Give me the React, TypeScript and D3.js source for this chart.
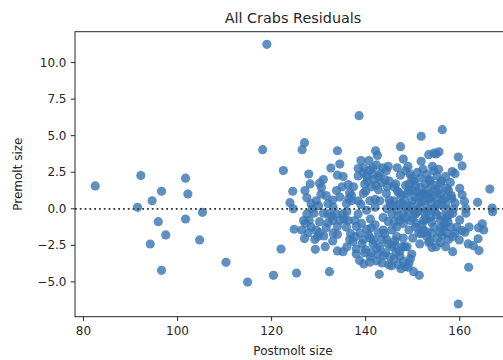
import React from "react";
import * as d3 from "d3";

const title = "All Crabs Residuals";
const xLabel = "Postmolt size";
const yLabel = "Premolt size";
const xTicks = [80, 100, 120, 140, 160];
const yTicks = [-5.0, -2.5, 0.0, 2.5, 5.0, 7.5, 10.0];

// Postmolt size (x) values
const postmolt = [
  82.5, 92.2, 91.5, 94.6, 96.6, 95.9, 94.2, 97.5, 96.6, 101.7, 102.2, 101.7, 105.3, 104.7, 110.3, 114.9,
  119.0, 118.1, 120.4, 122.0, 122.5, 124.5, 123.9, 124.6, 124.8, 125.3, 126.5, 127.0, 127.0, 127.9,
  129.3, 132.3, 131.4, 131.1, 132.6, 134.0, 134.5, 134.0, 134.0, 135.2, 138.6, 138.7, 139.6, 142.9,
  140.7, 142.1, 142.5, 147.4, 148.0, 151.8, 151.8, 153.4, 154.5, 155.6, 156.3, 155.0, 159.7, 160.5,
  158.4, 166.4, 166.9, 167.0, 163.8, 164.8, 165.1, 164.0, 163.9, 164.1, 162.9, 161.8, 161.9, 159.7,
  158.5, 159.9, 160.5, 160.0, 161.3, 161.3, 162.0, 161.1, 151.4, 150.2, 149.5, 148.4, 146.9, 144.9,
  144.2, 142.4, 141.7, 147.8, 146.1, 148.3, 138.0, 137.3, 136.8, 135.9, 133.0, 132.0, 130.2, 129.5,
  128.4, 126.8, 127.5, 128.4, 129.5, 127.5, 127.1, 128.2, 130.2, 130.6, 131.6, 132.0, 133.8, 134.5,
  135.2, 136.3, 136.6, 135.9, 133.8, 135.2, 136.3, 138.4, 138.4, 139.1, 138.8, 139.5, 140.9, 140.2,
  141.2, 138.4, 139.5, 138.4, 140.2, 140.9, 139.8, 141.2, 139.5, 140.9, 140.2, 142.0, 142.7, 143.0,
  143.7, 144.4, 144.1, 144.4, 145.2, 143.7, 144.8, 143.7, 142.7, 143.4, 142.4, 144.5, 146.6, 145.5,
  146.6, 147.3, 148.0, 146.6, 146.0, 147.1, 146.4, 147.4, 146.7, 148.5, 149.5, 149.2, 150.2, 148.8,
  149.9, 151.0, 151.6, 151.6, 153.0, 152.7, 153.7, 154.5, 155.2, 155.9, 154.8, 153.7, 152.7, 151.6,
  150.6, 149.5, 149.2, 150.6, 151.3, 152.3, 153.7, 154.5, 154.1, 153.7, 154.1, 155.2, 156.3, 156.6,
  155.9, 157.3, 157.0, 155.9, 155.2, 157.0, 157.6, 158.3, 158.7, 158.0, 159.0, 159.4, 157.3, 157.6,
  155.9, 153.0, 152.3, 153.0, 154.5, 152.3, 148.8, 147.8, 145.6, 144.5, 143.0, 142.0, 144.8, 142.3,
  142.7, 141.7, 137.4, 137.0, 137.7, 134.5, 133.1, 132.0, 133.1, 130.2, 129.2, 127.8, 126.4, 136.6,
  139.8, 141.2, 140.9, 146.0, 147.3, 149.2,
  146.0, 147.5, 148.5, 149.5, 150.5, 151.0, 152.0, 153.0, 154.0, 155.0, 156.0, 157.0, 148.0, 150.0,
  152.0, 154.0, 156.0, 153.5, 151.0, 149.0, 155.5, 157.0, 158.0, 156.5, 145.0, 150.0, 151.5, 152.5,
  154.5, 149.0, 147.0, 146.0, 145.0, 158.5, 159.0, 157.5, 153.0, 150.0, 148.0, 151.5, 157.0, 158.5,
  155.0, 160.5, 161.0, 160.0, 159.0,
  130.0, 131.0, 133.0, 134.0, 135.0, 136.0, 137.0, 138.0, 139.0, 140.0, 141.0, 141.5, 139.0, 136.0,
  133.0, 130.5, 129.0, 128.0, 131.0, 134.0, 142.0, 143.0, 144.0, 145.5, 146.5, 140.0, 138.0, 141.0,
  143.5, 145.5, 148.0, 149.0, 147.5,
  147.2, 148.2, 149.2, 150.2, 151.2, 152.2, 153.2, 154.2, 155.2, 156.2, 157.2, 148.6, 150.8, 152.8,
  154.8, 156.8, 149.8, 152.2, 154.2, 156.2, 150.6, 153.6, 155.6, 151.8, 153.4, 155.8, 157.8, 158.2,
  146.8, 145.8, 144.6, 143.4, 142.2, 141.4, 140.4, 139.6, 140.6, 141.6, 142.6, 143.8, 144.8, 145.2,
  146.2, 147.2, 148.8, 149.8, 137.8, 139.2, 136.4, 135.4, 132.8, 131.6, 129.8, 128.6, 127.2,
];

// Residual (y) values
const residual = [
  1.56, 2.27, 0.1, 0.55, 1.2, -0.88, -2.41, -1.79, -4.21, 2.09, 1.01, -0.7, -0.24, -2.13, -3.66, -5.01,
  11.25, 4.04, -4.55, -2.75, 2.61, 1.2, 0.42, 0.0, -1.4, -4.39, 4.04, 4.52, -2.04, 2.38,
  -2.77, -4.3, -2.59, -1.86, 2.79, 3.97, 3.06, -1.75, -2.88, -2.93, 6.37, -3.53, -3.77, -4.48,
  3.3, 3.97, 3.65, 4.25, 3.4, 4.96, 3.25, 3.7, 3.8, 3.9, 5.41, 3.75, 3.54, 2.93,
  2.55, 1.35, 0.05, -0.2, 0.44, -1.03, -1.45, -1.3, -2.05, -2.86, -2.52, -2.4, -4.0, -6.51,
  -2.93, -2.13, 0.96, -0.76, 0.0, -0.3, -1.25, -1.6, -4.55, -4.3, -3.41, -3.95, -3.83, -3.83,
  -3.0, -3.57, -2.13, -2.59, -2.48, -2.6, -2.75, -2.23, -1.7, -1.25, -0.8, -0.95, -0.88, -1.45,
  -1.25, -0.8, -0.35, 0.35, 0.55, 0.75, 1.25, 1.7, 1.75, 1.45, 0.9, 0.35, 1.25, 0.8,
  2.2, 1.65, 1.1, 0.35, -0.35, -0.35, -0.8, 0.55, -0.35, -1.0, -1.65, -2.1, -2.0, -1.4,
  -1.3, 2.75, 2.45, 2.25, 2.25, 2.65, 1.7, 1.5, 1.05, 0.55, -0.1, 0.1, 1.3, 2.4,
  2.8, 2.6, 2.0, 1.05, 0.35, -0.6, -0.88, -1.45, -1.65, -2.1, -2.7, -2.1, -1.9, -1.45,
  -1.25, -0.8, -0.35, -0.1, 0.55, 1.1, 1.7, 2.3, 2.8, 2.6, 2.35, 1.7, 1.9, 1.05,
  0.55, 1.1, 1.45, 2.1, 2.35, 1.7, 1.9, 2.6, 2.25, 1.8, 1.35, 1.05, 0.55, 0.1,
  -0.35, -0.8, -1.45, -1.25, -1.65, -0.8, -0.6, -1.25, -1.65, -2.2, -2.65, -2.0, -1.8, -1.25,
  -0.8, -0.6, 0.0, 0.35, 0.8, 0.8, 1.25, 0.7, 0.0, -1.25, -1.65, -1.25, -1.65, -2.1,
  -2.3, -1.9, -1.45, -0.2, 0.0, 1.05, 0.1, 0.35, -0.35, 0.0, 0.55, 0.65, 2.9, 3.0,
  2.2, 2.0, 1.5, 0.55, -0.8, -0.8, 0.1, -0.35, -1.65, -1.65, -2.1, -1.65, -1.45, -2.1,
  -3.0, -3.0, -3.65, -3.45, -3.25, -3.7,
  1.5, 0.9, 1.6, 0.2, 0.8, -0.2, 0.5, 1.3, 0.4, -0.4, 1.0, 0.3, -1.0, -0.6,
  -1.1, -0.9, -1.3, 2.0, 2.5, 2.9, 2.7, 2.2, 1.8, 0.6, 1.9, 1.3, 0.9, -0.3,
  1.6, -0.1, -0.5, -0.9, 0.6, -0.3, 0.4, -0.9, -1.6, -2.0, -2.0, -2.4, -2.6, -1.9,
  -2.6, -1.5, 0.5, 1.4, 2.4,
  0.2, -0.3, 0.6, -1.2, 1.5, -0.2, 0.9, -1.2, 0.3, 1.2, -0.7, 2.8, 3.3, -2.6,
  -2.2, 1.0, -0.3, -0.8, 2.0, 2.3, -1.1, -2.6, -1.7, -2.6, -3.0, -2.8, -3.1, -3.3,
  -3.7, -3.9, -3.6, -4.0, -4.1,
  0.3, 0.6, 1.2, -0.1, 0.4, 1.0, 0.0, 0.9, 0.3, -0.5, 1.4, -0.6, -1.0, -0.7,
  -0.2, -1.0, 2.1, 2.7, 2.9, 1.9, 1.6, 0.7, 1.3, -1.7, -2.3, -1.6, -0.4, 0.9,
  1.2, 0.2, 1.5, 1.8, 1.6, 2.4, 1.9, 2.8, -1.8, -2.4, -3.1, -3.2, -2.4, -3.3,
  -2.2, -2.9, -2.6, -3.1, -1.9, -2.4, 0.7, -0.7, -0.5, -1.3, -1.9, 0.0, -1.0,
];

const W = 503;
const H = 360;
const plot = { left: 75, right: 511, top: 31.7, bottom: 316.7 };
const textColor = "#262626";
const font = "'DejaVu Sans', sans-serif";

export default function App() {
  const x = d3.scaleLinear().domain([78.2, 170.9]).range([plot.left, plot.right]);
  const y = d3.scaleLinear().domain([-7.38, 12.11]).range([plot.bottom, plot.top]);
  const points = d3.zip(postmolt, residual);
  const fmtY = (v: number) => d3.format(".1f")(v).replace("-", "\u2212");

  return (
    <div style={{ position: "fixed", left: 0, top: 0 }}>
      <svg width={W} height={H} style={{ display: "block", background: "#fff" }}>
        <defs>
          <clipPath id="plotclip">
            <rect x={plot.left} y={plot.top} width={plot.right - plot.left} height={plot.bottom - plot.top} />
          </clipPath>
        </defs>
        <g clipPath="url(#plotclip)">
          {points.map(([px, py], i) => (
            <circle key={i} cx={x(px)} cy={y(py)} r={4.6} fill="#3a78b4" fillOpacity={0.82} />
          ))}
          <line
            x1={plot.left}
            x2={plot.right}
            y1={y(0)}
            y2={y(0)}
            stroke="#333333"
            strokeWidth={1.8}
            strokeDasharray="1.8,3"
          />
        </g>
        <rect
          x={plot.left}
          y={plot.top}
          width={plot.right - plot.left}
          height={plot.bottom - plot.top}
          fill="none"
          stroke="#262626"
          strokeWidth={1}
        />
        {xTicks.map((t) => (
          <g key={"x" + t}>
            <line x1={x(t)} x2={x(t)} y1={plot.bottom} y2={plot.bottom + 4.2} stroke="#262626" strokeWidth={1} />
            <text
              x={x(t)}
              y={plot.bottom + 9.5}
              dominantBaseline="hanging"
              textAnchor="middle"
              fontSize={12}
              fontFamily={font}
              fill={textColor}
            >
              {t}
            </text>
          </g>
        ))}
        {yTicks.map((t) => (
          <g key={"y" + t}>
            <line x1={plot.left - 4.2} x2={plot.left} y1={y(t)} y2={y(t)} stroke="#262626" strokeWidth={1} />
            <text
              x={plot.left - 8.5}
              y={y(t)}
              dominantBaseline="central"
              textAnchor="end"
              fontSize={12}
              fontFamily={font}
              fill={textColor}
            >
              {fmtY(t)}
            </text>
          </g>
        ))}
        <text x={293} y={18} textAnchor="middle" dominantBaseline="central" fontSize={14.4} fontFamily={font} fill={textColor}>
          {title}
        </text>
        <text x={293} y={351} textAnchor="middle" dominantBaseline="central" fontSize={12} fontFamily={font} fill={textColor}>
          {xLabel}
        </text>
        <text
          transform={`translate(18,${(plot.top + plot.bottom) / 2}) rotate(-90)`}
          textAnchor="middle"
          dominantBaseline="central"
          fontSize={12}
          fontFamily={font}
          fill={textColor}
        >
          {yLabel}
        </text>
      </svg>
    </div>
  );
}
